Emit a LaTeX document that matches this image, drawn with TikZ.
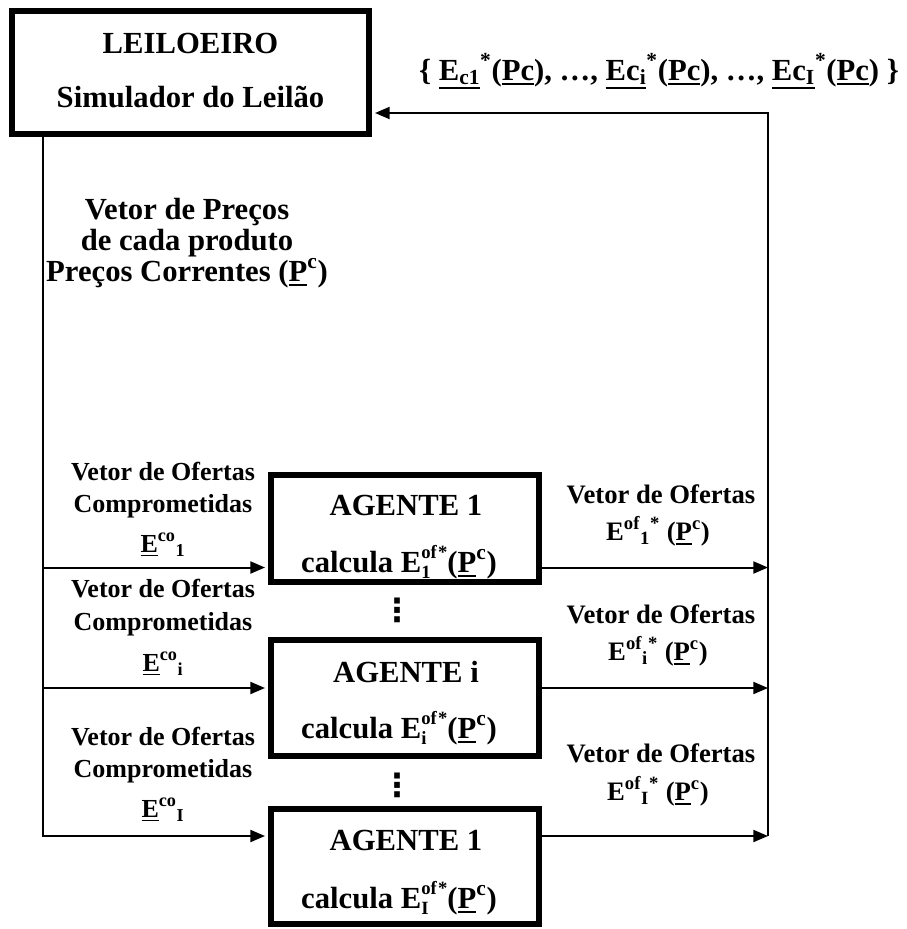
\documentclass[tikz,border=0pt]{standalone}
\usepackage{fontspec}
\setmainfont{Liberation Serif}
\newfontfamily\dvsans{DejaVu Sans}
\usetikzlibrary{arrows.meta,calc}
\newsavebox\ulbox
\newcommand\ul[2][0.17em]{\sbox\ulbox{#2}\rlap{\rule[-#1]{\wd\ulbox}{0.07em}}\usebox\ulbox}
\newcommand\sps[1]{\textsuperscript{#1}}
\newcommand\sbs[1]{\textsubscript{#1}}
\newcommand\stk[2]{\rlap{\raisebox{-0.22em}{\fontsize{14}{14}\selectfont #1}}\raisebox{0.45em}{\fontsize{14}{14}\selectfont #2\kern1pt*}}
\tikzset{
  big/.style={font=\bfseries\fontsize{23}{27}\selectfont, inner sep=0pt, anchor=base},
  lab/.style={font=\bfseries\fontsize{19.5}{23}\selectfont, inner sep=0pt, anchor=base},
  rlab/.style={font=\bfseries\fontsize{20}{24}\selectfont, inner sep=0pt, anchor=base},
  dotsty/.style={font=\dvsans\bfseries\fontsize{24}{24}\selectfont, inner sep=0pt},
  box/.style={draw, line width=4.5pt, inner sep=0pt, minimum width=201pt},
  conn/.style={line width=1.5pt},
  arr/.style={conn, -{Triangle[length=11pt,width=9pt]}},
}
\begin{document}
\begin{tikzpicture}[x=0.75pt,y=-0.75pt]
\useasboundingbox (0,0) rectangle (907,929);
% boxes
\node[box, minimum width=267.75pt, minimum height=92.25pt] (L) at (190.5,72.5) {};
\node[box, minimum height=80.25pt] (B1) at (405,528.5) {};
\node[box, minimum height=87pt] (Bi) at (405,698) {};
\node[box, minimum height=86.25pt] (BI) at (405,866.5) {};
% box texts
\node[big] (Lt1) at (190.5,53) {LEILOEIRO};
\node[big] (Lt2) at (190.5,107) {Simulador do Leilão};
\node[big] (B1t1) at (406,515) {AGENTE 1};
\node[big] (B1t2) at (399,572) {calcula E\stk{1}{of}(\ul{P}\sps{c})};
\node[big] (Bit1) at (406,682) {AGENTE i};
\node[big] (Bit2) at (399,738) {calcula E\stk{i}{of}(\ul{P}\sps{c})};
\node[big] (BIt1) at (406,850) {AGENTE 1};
\node[big] (BIt2) at (399,908) {calcula E\stk{I}{of}(\ul{P}\sps{c})};
% top label
\node[big] (top) at (659,80) {\{ \ul[0.3em]{E\sbs{c1}}\sps{*}(\ul{Pc}), …, \ul[0.3em]{Ec\sbs{i}}\sps{*}(\ul{Pc}), …, \ul[0.3em]{Ec\sbs{I}}\sps{*}(\ul{Pc}) \}};
% price vector label
\node[big] (p1) at (187,219) {Vetor de Preços};
\node[big] (p2) at (187,250) {de cada produto};
\node[big] (p3) at (187,281) {Preços Correntes (\ul{P}\sps{c})};
% left labels
\node[lab] (l11) at (163,480) {Vetor de Ofertas};
\node[lab] (l12) at (163,512) {Comprometidas};
\node[lab] (l13) at (163,552) {\ul{E}\sps{co}\sbs{1}};
\node[lab] (l21) at (163,597) {Vetor de Ofertas};
\node[lab] (l22) at (163,630) {Comprometidas};
\node[lab] (l23) at (163,671) {\ul{E}\sps{co}\sbs{i}};
\node[lab] (l31) at (163,745) {Vetor de Ofertas};
\node[lab] (l32) at (163,777) {Comprometidas};
\node[lab] (l33) at (163,817) {\ul{E}\sps{co}\sbs{I}};
% right labels
\node[rlab] (r11) at (661,503) {Vetor de Ofertas};
\node[rlab] (r12) at (658,540) {E\sps{of}\sbs{1}\sps{*} (\ul{P}\sps{c})};
\node[rlab] (r21) at (661,623) {Vetor de Ofertas};
\node[rlab] (r22) at (658,660) {E\sps{of}\sbs{i}\sps{*} (\ul{P}\sps{c})};
\node[rlab] (r31) at (661,762) {Vetor de Ofertas};
\node[rlab] (r32) at (658,800) {E\sps{of}\sbs{I}\sps{*} (\ul{P}\sps{c})};
% dots
\node[dotsty] (d1) at (397,610) {⋮};
\node[dotsty] (d2) at (397,785) {⋮};
% coordinates
\coordinate (vx) at (43,0);
\coordinate (rx) at (768,0);
\coordinate (a1) at (0,567.5);
\coordinate (a2) at (0,688);
\coordinate (a3) at (0,836);
\coordinate (tp) at (0,113);
% connectors
\draw[arr, shorten >=2.25pt] (L.south -| vx) -- (vx |- a3) -- (BI.west |- a3);
\draw[arr, shorten >=2.25pt] (vx |- a1) -- (B1.west |- a1);
\draw[arr, shorten >=2.25pt] (vx |- a2) -- (Bi.west |- a2);
\draw[arr] (B1.east |- a1) -- (rx |- a1);
\draw[arr] (Bi.east |- a2) -- (rx |- a2);
\draw[arr] (BI.east |- a3) -- (rx |- a3);
\draw[arr, shorten >=2.25pt] (rx |- a3) -- (rx |- tp) -- (L.east |- tp);
\end{tikzpicture}
\end{document}
